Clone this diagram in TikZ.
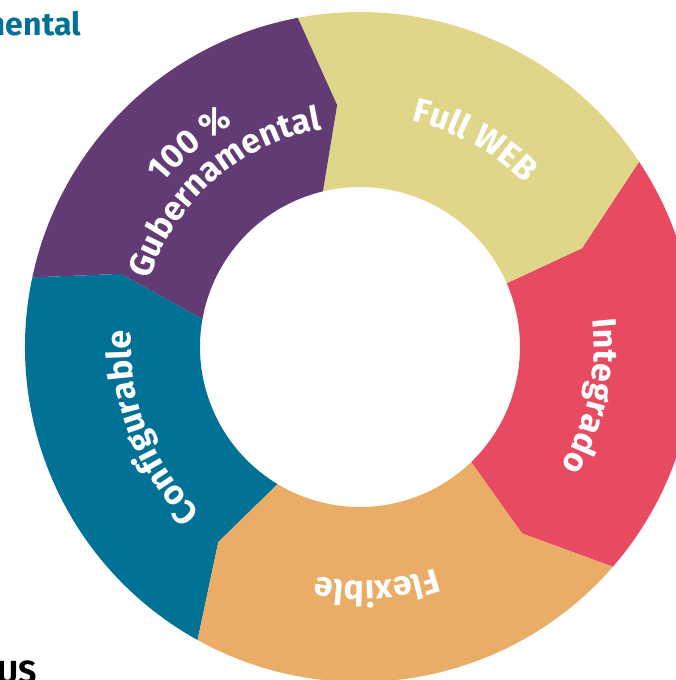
\documentclass[tikz,border=0pt]{standalone}
\usepackage{fontspec}
\setmainfont{Fira Sans}
\usetikzlibrary{decorations.text}

\definecolor{morado}{HTML}{623B74}
\definecolor{amarillo}{HTML}{DFD68A}
\definecolor{rojo}{HTML}{E84A62}
\definecolor{naranja}{HTML}{E9AD67}
\definecolor{azul}{HTML}{017296}

\newcommand\ringfont{\color{white}\bfseries\fontsize{34}{34}\selectfont}

\begin{document}
\begin{tikzpicture}[x=1pt,y=1pt,
		ringtext/.style={decorate,decoration={text along path,text align=center,
			text={|\ringfont|#1}}},
		corner/.style={inner sep=0pt,font=\bfseries\fontsize{32}{32}\selectfont}
	]
	
	\useasboundingbox (-360,-333) rectangle (315,347);
	
	% anillo
	\fill[rojo] (-41:335) arc[start angle=-41, end angle=33.6, radius=335] -- (24:243)
		-- (23.5:160) arc[start angle=23.5, end angle=-46, radius=160] -- (-49:247) -- cycle;
	\fill[amarillo] (33.6:335) arc[start angle=33.6, end angle=100.7, radius=335] -- (95.4:243)
		-- (103.4:160) arc[start angle=103.4, end angle=23.5, radius=160] -- (24:243) -- cycle;
	\fill[morado] (100.7:335) arc[start angle=100.7, end angle=168, radius=335] -- (163:250)
		-- (170:160) arc[start angle=170, end angle=103.4, radius=160] -- (95.4:243) -- cycle;
	\fill[azul] (168:335) arc[start angle=168, end angle=241, radius=335] -- (234:241)
		-- (239:160) arc[start angle=239, end angle=170, radius=160] -- (163:250) -- cycle;
	\fill[naranja] (-119:335) arc[start angle=-119, end angle=-41, radius=335] -- (-49:247)
		-- (-46:160) arc[start angle=-46, end angle=-121, radius=160] -- (-126:241) -- cycle;
	
	% textos
	\path[ringtext={Full WEB}] (121:232) arc[start angle=121, end angle=1, radius=232];
	\path[ringtext={Integrado}] (48:234) arc[start angle=48, end angle=-72, radius=234];
	\path[ringtext={Flexible}] (-26:234) arc[start angle=-26, end angle=-146, radius=234];
	\path[ringtext={Configurable}] (261:229) arc[start angle=261, end angle=141, radius=229];
	\path[ringtext={100 {\%}}] (190:256) arc[start angle=190, end angle=70, radius=256];
	\path[ringtext={Gubernamental}] (191:221) arc[start angle=191, end angle=71, radius=221];
	
	\node[corner, text=azul, anchor=base east] (titulo) at (-279,311) {mental};
	\node[corner, anchor=base east] (logo) at (-323,-336) {US};
\end{tikzpicture}
\end{document}
